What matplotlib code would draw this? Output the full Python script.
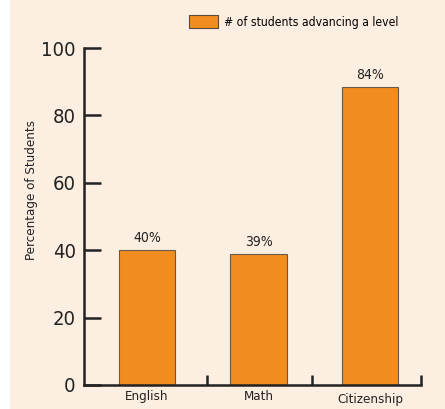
import matplotlib.pyplot as plt
import matplotlib.patches as mpatches

plt.rcParams["font.family"] = "DejaVu Sans"
plt.rcParams["font.stretch"] = "condensed"

# data
subjects = ["English", "Math", "Citizenship"]
heights = [40, 39, 88.5]
value_labels = ["40%", "39%", "84%"]

bg = "#FCEEE0"
orange = "#F08D1E"

fig = plt.figure(figsize=(4.45, 4.09), dpi=100, facecolor="white")
fig.patches.append(mpatches.Rectangle((10 / 445, 0), 1, 1, transform=fig.transFigure,
                                      facecolor=bg, edgecolor="none", zorder=-10))

W, H = 445, 409
ax = fig.add_axes([84 / W, 1 - 385 / H, (421 - 84) / W, (385 - 48) / H])
ax.set_facecolor("none")

x = range(len(subjects))
ax.bar(x, heights, width=0.51, color=orange, edgecolor="#6b5a4a", linewidth=0.8)

for i, (h, lab) in enumerate(zip(heights, value_labels)):
    ax.annotate(lab, (i, h), xytext=(0, 3.5), textcoords="offset points",
                ha="center", va="bottom", fontsize=10, color="#222222")

xmin, xmax = -0.565, 2.457
ax.set_xlim(xmin, xmax)
ax.set_ylim(0, 100)

ax.spines["top"].set_visible(False)
ax.spines["right"].set_visible(False)
for s in ["left", "bottom"]:
    ax.spines[s].set_linewidth(1.8)
    ax.spines[s].set_color("#222222")

ax.set_yticks([0, 20, 40, 60, 80, 100])
ax.tick_params(axis="y", direction="in", length=12, width=1.8, labelsize=14.5,
               pad=6, colors="#222222")
ax.set_xticks([0.54, 1.48, xmax])
ax.set_xticklabels([])
ax.tick_params(axis="x", direction="in", length=7, width=1.8, colors="#222222")

# category labels under the bars
for i, name in enumerate(subjects):
    dy = 3.5 if i < 2 else 4.4
    ax.text(i, -dy, name, ha="center", va="center", fontsize=9.5,
            color="#222222", clip_on=False)

ax.set_ylabel("Percentage of Students", fontsize=9.5, color="#222222")
ax.yaxis.set_label_coords(-0.137, 0.58)

handle = mpatches.Patch(facecolor=orange, edgecolor="#5a4a3a", linewidth=0.8)
fig.legend([handle], ["# of students advancing a level"], loc="center left",
           bbox_to_anchor=(178 / W, 1 - 22 / H), frameon=False, fontsize=8.7,
           handlelength=2.4, handleheight=1.3, handletextpad=0.5)

fig.savefig("out.png", dpi=100, facecolor=fig.get_facecolor())
